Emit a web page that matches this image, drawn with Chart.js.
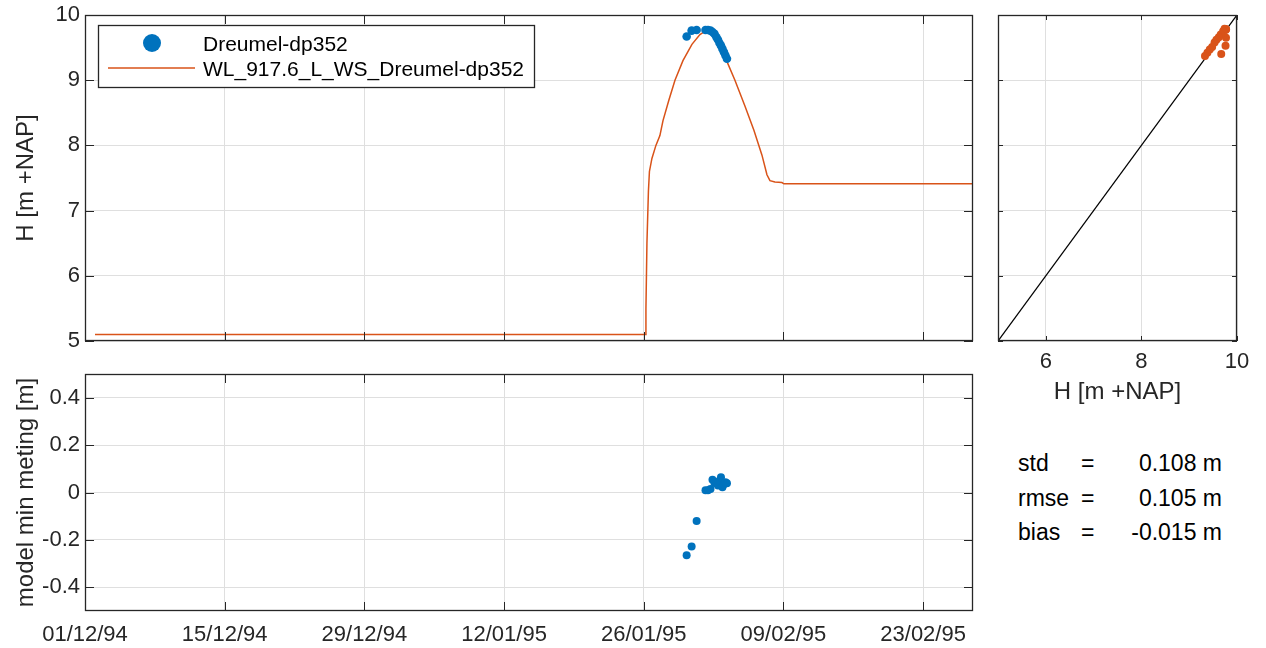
<!DOCTYPE html>
<html lang="nl">
<head>
  <meta charset="UTF-8" />
  <title>Dreumel-dp352</title>
  <script src="https://cdn.jsdelivr.net/npm/chart.js"></script>
  <style>
    body {
      margin: 0;
      background: #fff;
      font-family: "Liberation Sans", Arial, sans-serif;
    }
    #wrap { position: relative; width: 1266px; height: 648px; }
    .panel { position: absolute; }
    #stats { position: absolute; left: 1018px; top: 446px; width: 204px; font-size: 23px; color: #000; }
    #stats .row { position: relative; height: 34.5px; line-height: 34.5px; }
    #stats .eq { position: absolute; left: 63px; top: 0; }
    #stats .val { position: absolute; right: 0; top: 0; }
  </style>
</head>
<body>

<div id="wrap">
  <div class="panel" style="left:0;top:0;width:990px;height:350px"><canvas id="levelChart"></canvas></div>
  <div class="panel" style="left:990px;top:0;width:276px;height:420px"><canvas id="scatterChart"></canvas></div>
  <div class="panel" style="left:0;top:360px;width:990px;height:288px"><canvas id="diffChart"></canvas></div>

  <div id="stats">
    <div class="row"><span>std</span><span class="eq">=</span><span class="val">0.108 m</span></div>
    <div class="row"><span>rmse</span><span class="eq">=</span><span class="val">0.105 m</span></div>
    <div class="row"><span>bias</span><span class="eq">=</span><span class="val">-0.015 m</span></div>
  </div>
</div>

<script>
// time axis: days since 01/12/94
const dayMin = 0;
const dayMax = 89;
const dateTicks = [0, 14, 28, 42, 56, 70, 84];
const dateLabels = ['01/12/94', '15/12/94', '29/12/94', '12/01/95', '26/01/95', '09/02/95', '23/02/95'];

// model water level WL_917.6_L_WS_Dreumel-dp352
const modelDays = [1.0, 56.17, 56.22, 56.32, 56.47, 56.57, 56.82, 57.22, 57.62, 57.93, 58.53, 59.13, 59.93,
  60.83, 61.63, 62.44, 63.04, 63.84, 64.44, 65.14, 66.15, 67.05, 67.85, 68.35, 68.65, 69.15, 69.85, 70.05, 89];
const modelH = [5.1, 5.1, 5.5, 6.5, 7.3, 7.6, 7.8, 8.0, 8.15, 8.38, 8.7, 9.0, 9.3,
  9.55, 9.7, 9.78, 9.72, 9.5, 9.25, 9.0, 8.6, 8.23, 7.85, 7.55, 7.46, 7.44, 7.43, 7.41, 7.41];

// measurements Dreumel-dp352
const obsDays = [60.30, 60.80, 61.30, 62.19, 62.44, 62.69, 62.89, 63.09, 63.29, 63.44, 63.59, 63.74, 63.89, 64.04, 64.19, 64.34];
const obsH = [9.67, 9.76, 9.77, 9.77, 9.77, 9.76, 9.74, 9.71, 9.66, 9.62, 9.57, 9.53, 9.48, 9.43, 9.38, 9.33];

// model minus measurement
const diffM = [-0.265, -0.228, -0.12, 0.01, 0.01, 0.015, 0.054, 0.04, 0.043, 0.03, 0.05, 0.064, 0.022, 0.035, 0.043, 0.039];

// model value at each measurement time (scatter y)
const modelAtObs = [9.40, 9.53, 9.65, 9.78, 9.78, 9.77, 9.79, 9.75, 9.70, 9.66, 9.62, 9.58, 9.51, 9.47, 9.42, 9.37];

const levelTicks = [5, 6, 7, 8, 9, 10];
const diffTicks = [-0.4, -0.2, 0, 0.2, 0.4];
const diffLabels = ['-0.4', '-0.2', '0', '0.2', '0.4'];
const scatterTicks = [6, 8, 10];

const BLUE = '#0072BD';
const ORANGE = '#D95319';
const AXIS = '#262626';
const GRID = '#dfdfdf';

Chart.defaults.font.family = '"Liberation Sans", Arial, sans-serif';
Chart.defaults.font.size = 22;
Chart.defaults.color = AXIS;
Chart.defaults.animation = false;
Chart.defaults.devicePixelRatio = 1;
Chart.defaults.plugins.legend.display = false;
Chart.defaults.plugins.tooltip.enabled = false;

const pts = (xs, ys) => xs.map((x, i) => ({ x: x, y: ys[i] }));
const setTicks = vals => scale => { scale.ticks = vals.map(v => ({ value: v })); };

// fixed axis sizes, and no extra room for labels hanging over the ends
const fitX = h => s => { s.height = h; s.paddingLeft = 0; s.paddingRight = 0; };
const fitY = w => s => { s.width = w; s.paddingTop = 0; s.paddingBottom = 0; };

// box around the axes with inward tick marks on all four sides
const frame = {
  id: 'frame',
  afterDatasetsDraw(chart, args, opts) {
    const { ctx, chartArea: a, scales } = chart;
    const len = opts.len || 9;
    ctx.save();
    ctx.strokeStyle = AXIS;
    ctx.lineWidth = 1;
    ctx.beginPath();
    scales.x.ticks.forEach(t => {
      const px = Math.round(scales.x.getPixelForValue(t.value)) + 0.5;
      ctx.moveTo(px, a.bottom); ctx.lineTo(px, a.bottom - len);
      ctx.moveTo(px, a.top); ctx.lineTo(px, a.top + len);
    });
    scales.y.ticks.forEach(t => {
      const py = Math.round(scales.y.getPixelForValue(t.value)) + 0.5;
      ctx.moveTo(a.left, py); ctx.lineTo(a.left + len, py);
      ctx.moveTo(a.right, py); ctx.lineTo(a.right - len, py);
    });
    ctx.stroke();
    ctx.lineWidth = 1.3;
    ctx.strokeRect(a.left + 0.5, a.top + 0.5, a.right - a.left - 1, a.bottom - a.top - 1);
    ctx.restore();
  }
};

// legend box in the upper left corner of the level plot
const boxLegend = {
  id: 'boxLegend',
  afterDraw(chart) {
    const { ctx, chartArea: a } = chart;
    const ds = chart.data.datasets;
    const x0 = a.left + 13, y0 = a.top + 10, w = 436, h = 62;
    ctx.save();
    ctx.fillStyle = '#fff';
    ctx.fillRect(x0, y0, w, h);
    ctx.strokeStyle = AXIS;
    ctx.lineWidth = 1.3;
    ctx.strokeRect(x0 + 0.5, y0 + 0.5, w, h);

    ctx.fillStyle = BLUE;
    ctx.beginPath();
    ctx.arc(x0 + 54, y0 + 18, 9, 0, Math.PI * 2);
    ctx.fill();

    ctx.strokeStyle = ORANGE;
    ctx.lineWidth = 1.5;
    ctx.beginPath();
    ctx.moveTo(x0 + 10, y0 + 43);
    ctx.lineTo(x0 + 97, y0 + 43);
    ctx.stroke();

    ctx.fillStyle = '#000';
    ctx.font = '21px "Liberation Sans", Arial, sans-serif';
    ctx.textBaseline = 'middle';
    ctx.fillText(ds[0].label, x0 + 105, y0 + 20);
    ctx.fillText(ds[1].label, x0 + 105, y0 + 45);
    ctx.restore();
  }
};

// top: water level in time
new Chart(document.getElementById('levelChart'), {
  type: 'scatter',
  data: {
    datasets: [
      {
        label: 'Dreumel-dp352',
        data: pts(obsDays, obsH),
        backgroundColor: BLUE,
        borderWidth: 0,
        pointRadius: 4.3
      },
      {
        label: 'WL_917.6_L_WS_Dreumel-dp352',
        data: pts(modelDays, modelH),
        showLine: true,
        borderColor: ORANGE,
        borderWidth: 1.5,
        pointRadius: 0
      }
    ]
  },
  options: {
    responsive: true,
    maintainAspectRatio: false,
    layout: { padding: { top: 15, right: 17, bottom: 9, left: 0 } },
    scales: {
      x: {
        type: 'linear', min: dayMin, max: dayMax,
        afterBuildTicks: setTicks(dateTicks),
        afterFit: fitX(0),
        ticks: { display: false },
        grid: { color: GRID, drawTicks: false },
        border: { display: false }
      },
      y: {
        min: 5, max: 10,
        afterBuildTicks: setTicks(levelTicks),
        afterFit: fitY(85),
        ticks: { padding: 5 },
        grid: { color: GRID, drawTicks: false },
        border: { display: false },
        title: { display: true, text: 'H [m +NAP]', font: { size: 24 }, padding: { top: 12, bottom: 0 } }
      }
    },
    plugins: { frame: { len: 9 } }
  },
  plugins: [frame, boxLegend]
});

// right: model against measurement
new Chart(document.getElementById('scatterChart'), {
  type: 'scatter',
  data: {
    datasets: [
      {
        data: pts(obsH, modelAtObs),
        backgroundColor: ORANGE,
        borderWidth: 0,
        pointRadius: 4
      },
      {
        data: pts([5, 10], [5, 10]),
        showLine: true,
        borderColor: '#000',
        borderWidth: 1.3,
        pointRadius: 0
      }
    ]
  },
  options: {
    responsive: true,
    maintainAspectRatio: false,
    layout: { padding: { top: 15, right: 29, bottom: 0, left: 8 } },
    scales: {
      x: {
        type: 'linear', min: 5, max: 10,
        afterBuildTicks: setTicks(scatterTicks),
        afterFit: fitX(79),
        ticks: { padding: 8 },
        grid: { color: GRID, drawTicks: false },
        border: { display: false },
        title: { display: true, text: 'H [m +NAP]', font: { size: 24 }, padding: { top: 0, bottom: 13 } }
      },
      y: {
        min: 5, max: 10,
        afterBuildTicks: setTicks(levelTicks),
        afterFit: fitY(0),
        ticks: { display: false },
        grid: { color: GRID, drawTicks: false },
        border: { display: false }
      }
    },
    plugins: { frame: { len: 5 } }
  },
  plugins: [frame]
});

// bottom: model minus measurement
new Chart(document.getElementById('diffChart'), {
  type: 'scatter',
  data: {
    datasets: [{
      data: pts(obsDays, diffM),
      backgroundColor: BLUE,
      borderWidth: 0,
      pointRadius: 4
    }]
  },
  options: {
    responsive: true,
    maintainAspectRatio: false,
    layout: { padding: { top: 14, right: 17, bottom: 0, left: 0 } },
    scales: {
      x: {
        type: 'linear', min: dayMin, max: dayMax,
        afterBuildTicks: setTicks(dateTicks),
        afterFit: fitX(37),
        ticks: { padding: 11, autoSkip: false, maxRotation: 0, callback: (v, i) => dateLabels[i] },
        grid: { color: GRID, drawTicks: false },
        border: { display: false }
      },
      y: {
        min: -0.5, max: 0.5,
        afterBuildTicks: setTicks(diffTicks),
        afterFit: fitY(85),
        ticks: { padding: 5, callback: (v, i) => diffLabels[i] },
        grid: { color: GRID, drawTicks: false },
        border: { display: false },
        title: { display: true, text: 'model min meting [m]', font: { size: 24 }, padding: { top: 12, bottom: 0 } }
      }
    },
    plugins: { frame: { len: 9 } }
  },
  plugins: [frame]
});
</script>

</body>
</html>
